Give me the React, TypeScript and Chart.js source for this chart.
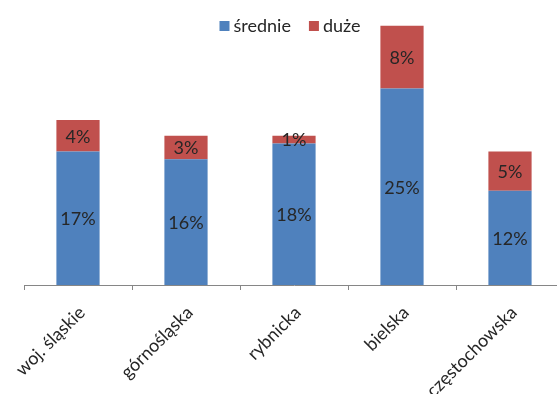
import React, { useEffect, useRef } from "react";
import { Chart, registerables } from "chart.js";

Chart.register(...registerables);

// Districts along the category axis
const categories = ["woj. śląskie", "górnośląska", "rybnicka", "bielska", "częstochowska"];

// Share of medium-sized units, in percent
const srednie = [17, 16, 18, 25, 12];
// Share of large units, in percent
const duze = [4, 3, 1, 8, 5];

const seriesNames = ["średnie", "duże"];
const seriesColors = ["#4F81BD", "#C0504D"];

const FONT = "Lato, 'Open Sans', sans-serif";
const TEXT_COLOR = "#262626";

// Percent labels centred inside each stacked segment
const segmentLabels = {
  id: "segmentLabels",
  afterDatasetsDraw(chart: any) {
    const ctx = chart.ctx;
    ctx.save();
    ctx.font = `18px ${FONT}`;
    ctx.fillStyle = TEXT_COLOR;
    ctx.textAlign = "center";
    ctx.textBaseline = "middle";
    chart.data.datasets.forEach((ds: any, di: number) => {
      const meta = chart.getDatasetMeta(di);
      meta.data.forEach((bar: any, i: number) => {
        const v = ds.data[i];
        const yMid = (bar.y + bar.base) / 2;
        ctx.fillText(`${v}%`, bar.x, yMid + 1);
      });
    });
    ctx.restore();
  },
};

// Horizontal legend drawn over the top of the plot
const topLegend = {
  id: "topLegend",
  afterDraw(chart: any) {
    const ctx = chart.ctx;
    ctx.save();
    ctx.font = `18px ${FONT}`;
    ctx.textBaseline = "middle";
    ctx.textAlign = "left";
    const box = 10;
    const gapBoxText = 4;
    const gapItems = 18;
    const items = chart.data.datasets.map((ds: any) => ({
      label: ds.label,
      color: ds.backgroundColor,
      w: box + gapBoxText + ctx.measureText(ds.label).width,
    }));
    const total = items.reduce((s: number, it: any) => s + it.w, 0) + gapItems * (items.length - 1);
    const cx = 290;
    const cy = 26;
    let x = cx - total / 2;
    items.forEach((it: any) => {
      ctx.fillStyle = it.color;
      ctx.fillRect(x, cy - box / 2, box, box);
      ctx.fillStyle = TEXT_COLOR;
      ctx.fillText(it.label, x + box + gapBoxText, cy);
      x += it.w + gapItems;
    });
    ctx.restore();
  },
};

export default function App() {
  const canvasRef = useRef<HTMLCanvasElement | null>(null);

  useEffect(() => {
    const canvas = canvasRef.current;
    if (!canvas) return;
    const chart = new Chart(canvas, {
      type: "bar",
      data: {
        labels: categories,
        datasets: [
          {
            label: seriesNames[0],
            data: srednie,
            backgroundColor: seriesColors[0],
            categoryPercentage: 1,
            barPercentage: 0.4,
          },
          {
            label: seriesNames[1],
            data: duze,
            backgroundColor: seriesColors[1],
            categoryPercentage: 1,
            barPercentage: 0.4,
          },
        ],
      },
      options: {
        responsive: false,
        animation: false,
        layout: { padding: { left: 24, right: 6, top: 10, bottom: 0 } },
        plugins: {
          legend: { display: false },
          tooltip: { enabled: false },
        },
        scales: {
          x: {
            stacked: true,
            offset: true,
            grid: {
              display: true,
              offset: true,
              drawOnChartArea: false,
              drawTicks: true,
              tickLength: 5,
              color: "#868686",
            },
            border: { display: true, color: "#868686", width: 1 },
            ticks: {
              autoSkip: false,
              maxRotation: 45,
              minRotation: 45,
              padding: 12,
              labelOffset: 4,
              color: TEXT_COLOR,
              font: { family: FONT, size: 18 },
            },
            afterFit: (scale: any) => {
              scale.height = 109;
            },
          },
          y: {
            stacked: true,
            display: false,
            min: 0,
            max: 35,
          },
        },
      },
      plugins: [segmentLabels, topLegend],
    });
    return () => chart.destroy();
  }, []);

  return (
    <div
      style={{
        position: "fixed",
        left: 0,
        top: 0,
        width: 557,
        height: 394,
        overflow: "hidden",
        background: "#ffffff",
      }}
    >
      <canvas ref={canvasRef} width={570} height={394} style={{ width: 570, height: 394, display: "block" }} />
    </div>
  );
}
